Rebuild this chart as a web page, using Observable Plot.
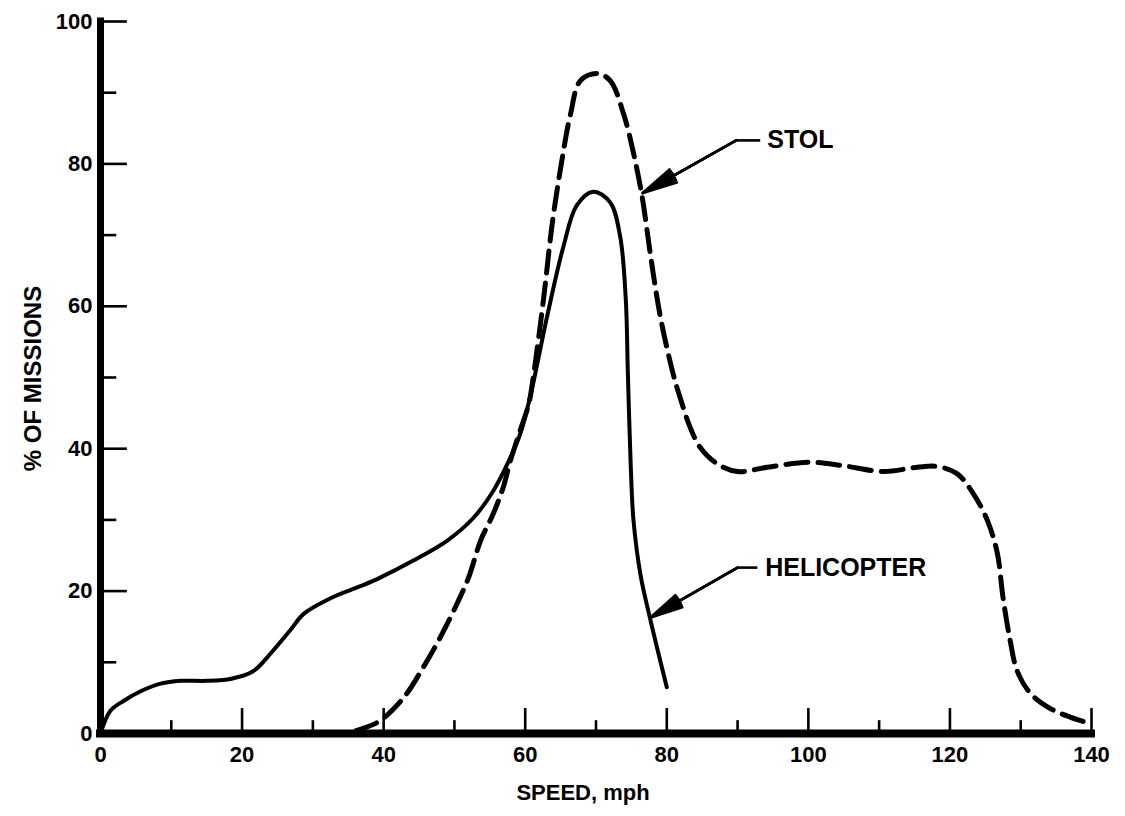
<!DOCTYPE html>
<html>
<head>
<meta charset="utf-8">
<script src="https://cdn.jsdelivr.net/npm/d3@7"></script>
<script src="https://cdn.jsdelivr.net/npm/@observablehq/plot@0.6"></script>
<style>
  body { margin: 0; background: #fff; }
</style>
</head>
<body>
<div id="chart"></div>
<script>
// ---- data ----
const helicopterSpeed = [0, 1.4, 3.3, 5.6, 8.5, 11.3, 15, 18.5, 21.5, 24, 26.8, 28.7, 32.5, 37, 39.5, 44.2, 49, 52.7, 55.5, 57.5, 59.3, 60.7, 63.1, 65.4, 67.3, 69.6, 72, 73.4, 74.2, 74.5, 74.9, 75.3, 76.3, 77.7, 80];
const helicopterPct   = [0, 3.2, 4.6, 5.9, 7.0, 7.4, 7.4, 7.7, 8.7, 11.2, 14.5, 16.8, 19.0, 20.8, 21.9, 24.3, 27.1, 30.3, 34.1, 37.9, 42.1, 47.3, 58.6, 68.4, 74.2, 76.1, 74.6, 69.9, 61.1, 50.7, 37.8, 29.9, 22.2, 15.9, 6.5];

const stolSpeed = [0, 20, 34, 37, 39.5, 42.8, 45.6, 48, 50.4, 52, 53.7, 55.5, 56.9, 57.9, 59.3, 60.5, 61.2, 62.6, 63.8, 65.1, 66.4, 67.8, 70.2, 72, 73.9, 75.3, 76.5, 77.8, 79.1, 80.9, 82, 83.3, 84.7, 87.1, 90, 94.2, 100.3, 105, 110.6, 115.4, 118.2, 121, 123.3, 125.3, 126.7, 127.5, 128.5, 129.5, 131.4, 134.2, 137, 139.8];
const stolPct   = [0, 0, 0, 0.7, 1.8, 5.0, 9.3, 13.5, 18.3, 21.9, 27.1, 30.9, 34.6, 38.3, 42.6, 46.3, 50.5, 61.1, 71.5, 80.0, 87.0, 91.7, 92.7, 91.7, 87.0, 81.5, 75.5, 66.5, 58.5, 50.5, 46.8, 43.0, 40.2, 37.9, 36.8, 37.4, 38.1, 37.6, 36.8, 37.4, 37.5, 36.5, 33.7, 29.9, 25.3, 19.1, 13.1, 8.8, 5.6, 3.5, 2.3, 1.4];

const xTickLabels = [0, 20, 40, 60, 80, 100, 120, 140];
const yTickLabels = [0, 20, 40, 60, 80, 100];
const xTickMarks = [10, 20, 30, 40, 50, 60, 70, 80, 90, 100, 110, 120, 130, 140];
const yTickMarks = [10, 20, 30, 40, 50, 60, 70, 80, 90, 100];

const calloutText  = ["STOL", "HELICOPTER"];
const calloutTipX  = [76.6, 77.7];
const calloutTipY  = [75.9, 16.3];
const calloutKneeX = [89.8, 90.0];
const calloutKneeY = [83.3, 23.3];
const calloutEndX  = [93.2, 92.8];
const calloutTextX = [94.2, 93.9];

const xTitle = "SPEED, mph";
const yTitle = "% OF MISSIONS";

// ---- tables built from the arrays ----
const heli = helicopterSpeed.map((x, i) => ({x, y: helicopterPct[i]}));
const stol = stolSpeed.map((x, i) => ({x, y: stolPct[i]}));
const callouts = calloutText.map((t, i) => ({
  text: t, tipX: calloutTipX[i], tipY: calloutTipY[i],
  kneeX: calloutKneeX[i], kneeY: calloutKneeY[i],
  endX: calloutEndX[i], textX: calloutTextX[i]
}));

const FONT = "'Liberation Sans', Arial, Helvetica, sans-serif";

const arrowMarks = [8, 16, 24].map(a => Plot.arrow(callouts, {
  x1: "kneeX", y1: "kneeY", x2: "tipX", y2: "tipY",
  stroke: "black", strokeWidth: 2.6, headLength: 24, headAngle: a
}));

const chart = Plot.plot({
  width: 1125,
  height: 816,
  marginLeft: 100,
  marginRight: 34,
  marginTop: 21,
  marginBottom: 83,
  x: {domain: [0, 140]},
  y: {domain: [0, 100]},
  style: {
    background: "white",
    color: "black",
    fontFamily: FONT,
    fontSize: "22px",
    fontWeight: "bold",
    overflow: "visible"
  },
  marks: [
    // curves
    Plot.line(stol, {x: "x", y: "y", curve: "catmull-rom", stroke: "black", strokeWidth: 5, strokeDasharray: "22,10"}),
    Plot.line(heli, {x: "x", y: "y", curve: "catmull-rom", stroke: "black", strokeWidth: 4}),
    // tick marks (inward)
    Plot.ruleY(yTickMarks, {y: d => d, x1: 0, x2: d => d % 20 === 0 ? 3.8 : 2.3, stroke: "black", strokeWidth: 2.6}),
    Plot.ruleX(xTickMarks, {x: d => d, y1: 0, y2: d => d % 20 === 0 ? 3.5 : 1.8, stroke: "black", strokeWidth: 2.6}),
    // heavy axis lines
    Plot.ruleX([0], {y1: 0, y2: 100, stroke: "black", strokeWidth: 7, strokeLinecap: "square"}),
    Plot.ruleY([0], {x1: 0, x2: 140, stroke: "black", strokeWidth: 8, strokeLinecap: "square"}),
    // tick labels
    Plot.axisY({ticks: yTickLabels, tickSize: 0, tickPadding: 8, label: null, fontSize: 22}),
    Plot.axisX({ticks: xTickLabels, tickSize: 0, tickPadding: 13, label: null, fontSize: 22}),
    // axis titles
    Plot.text([xTitle], {frameAnchor: "bottom", text: d => d, textAnchor: "middle", dx: -13, dy: 66, fontSize: 22, fontWeight: "bold"}),
    Plot.text([yTitle], {frameAnchor: "left", text: d => d, textAnchor: "middle", lineAnchor: "middle", rotate: -90, dx: -67, dy: 1, fontSize: 24, fontWeight: "bold"}),
    // callouts
    Plot.link(callouts, {x1: "kneeX", y1: "kneeY", x2: "endX", y2: "kneeY", stroke: "black", strokeWidth: 2.6}),
    ...arrowMarks,
    Plot.text(callouts, {x: "textX", y: "kneeY", text: "text", textAnchor: "start", lineAnchor: "middle", fontSize: 25, fontWeight: "bold"})
  ]
});

document.getElementById("chart").append(chart);
</script>
</body>
</html>
